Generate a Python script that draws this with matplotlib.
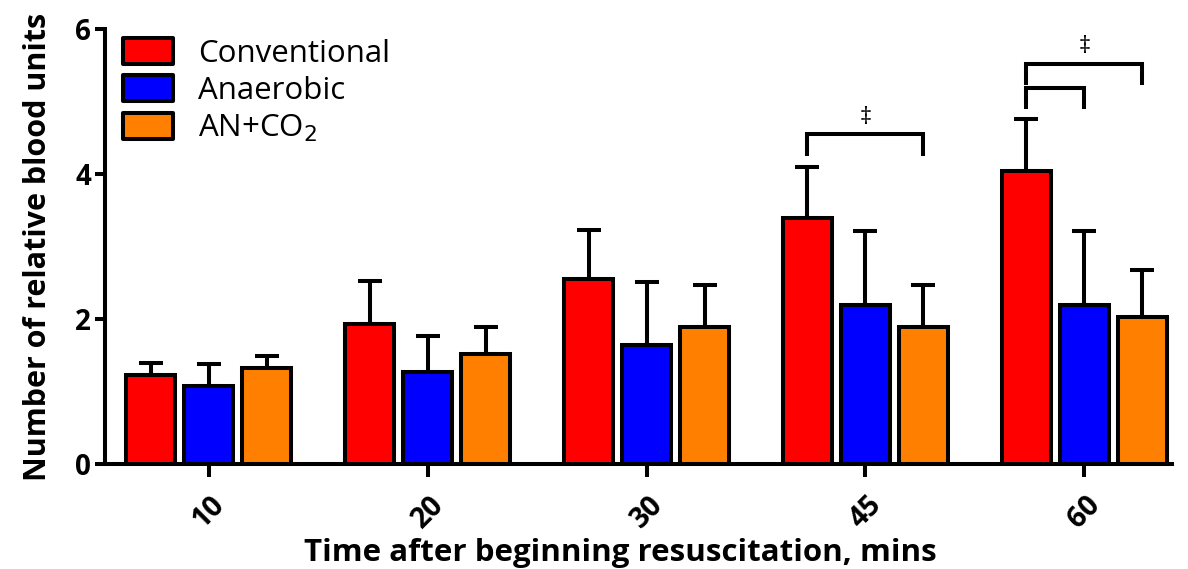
import numpy as np
import matplotlib.pyplot as plt

# mean and upper SD per time point
times = ['10', '20', '30', '45', '60']
conventional = [1.23, 1.93, 2.55, 3.39, 4.04]
conventional_sd = [0.16, 0.59, 0.68, 0.71, 0.72]
anaerobic = [1.08, 1.27, 1.64, 2.19, 2.19]
anaerobic_sd = [0.30, 0.50, 0.87, 1.02, 1.02]
an_co2 = [1.32, 1.52, 1.89, 1.89, 2.03]
an_co2_sd = [0.17, 0.37, 0.58, 0.58, 0.65]

plt.rcParams['font.family'] = ['Open Sans', 'DejaVu Sans']

fig = plt.figure(figsize=(11.88, 5.69), dpi=100)
ax = fig.add_axes([0.0884, 0.1845, 0.898, 0.7645])

x = np.arange(len(times))
width = 0.224
offset = 0.265
lw = 2.9
series = [
    (conventional, conventional_sd, '#ff0000', 'Conventional'),
    (anaerobic, anaerobic_sd, '#0000ff', 'Anaerobic'),
    (an_co2, an_co2_sd, '#ff8000', 'AN+CO$_2$'),
]
for i, (vals, sd, col, lab) in enumerate(series):
    pos = x + (i - 1) * offset
    ax.bar(pos, vals, width, color=col, edgecolor='black', linewidth=lw, label=lab, zorder=3)
    ax.errorbar(pos, vals, yerr=[np.zeros(len(sd)), sd], fmt='none', ecolor='black',
                elinewidth=lw, capsize=8.5, capthick=lw, zorder=2)

# significance brackets
def bracket(x1, x2, y, h=0.27, label=None):
    ax.plot([x1, x1, x2, x2], [y - h, y, y, y - h], color='black', lw=lw,
            solid_joinstyle='miter', zorder=4)
    if label:
        ax.text((x1 + x2) / 2, y + 0.06, label, ha='center', va='bottom', fontsize=17)

bracket(x[3] - offset, x[3] + offset, 4.55, label='‡')
bracket(x[4] - offset, x[4], 5.19)
bracket(x[4] - offset, x[4] + offset, 5.52, label='‡')

ax.set_xlim(-0.475, 4.4)
ax.set_ylim(0, 6)
ax.set_yticks([0, 2, 4, 6])
ax.set_xticks(x)
ax.set_xticklabels(times, rotation=45, fontweight='bold', fontsize=20.5)
for t in ax.get_yticklabels():
    t.set_fontweight('bold')
    t.set_fontsize(20)
ax.tick_params(axis='y', width=lw, length=7, direction='out', pad=3)
ax.tick_params(axis='x', width=lw, length=9, direction='out', pad=10)

for s in ['top', 'right']:
    ax.spines[s].set_visible(False)
for s in ['left', 'bottom']:
    ax.spines[s].set_linewidth(lw)

ax.set_xlabel('Time after beginning resuscitation, mins', fontsize=22.5, fontweight='bold', labelpad=0)
ax.xaxis.set_label_coords(0.483, -0.17)
ax.set_ylabel('Number of relative blood units', fontsize=22, fontweight='bold', labelpad=16)

leg = ax.legend(loc='upper left', bbox_to_anchor=(-0.004, 1.03), frameon=False, fontsize=22.5,
                handlelength=1.6, handleheight=0.9, handletextpad=0.8, labelspacing=0.22,
                borderaxespad=0.3)
for h in leg.legend_handles:
    h.set_linewidth(lw)
    h.set_joinstyle('round')

fig.savefig('out.png', dpi=100)
